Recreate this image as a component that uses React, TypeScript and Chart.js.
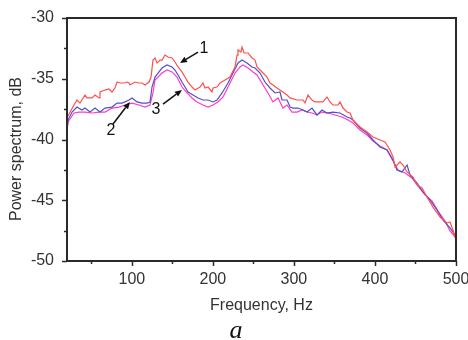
import React, { useEffect, useRef } from "react";
import { Chart, registerables } from "chart.js";

Chart.register(...registerables);

// Curve 1 (red)
const FREQ_1 = [20, 28.6, 32.3, 36, 42.2, 44.7, 50.9, 54.6, 59.5, 60.7, 66.9, 71.8, 75.5, 79.2, 81.7, 85.4, 90.3, 94, 96.5, 97.7, 103.9, 108.8, 112.6, 116.3, 121.2, 123.7, 126.1, 128.6, 131.1, 134.8, 137.2, 140.9, 144.6, 149.6, 153.3, 157, 161.9, 165.6, 169.3, 174.3, 178, 184.1, 187.8, 190.3, 194, 198.9, 200.2, 205.1, 208.8, 215, 221.1, 227.3, 229.8, 231, 234.7, 236, 238.4, 243.4, 248.3, 252, 254.5, 258.2, 261.9, 266.8, 270.5, 274.2, 279.1, 282.8, 286.5, 291.5, 295.2, 303.8, 311.2, 313.7, 317.4, 322.3, 326, 332.2, 335.9, 340.8, 344.5, 348.2, 354.4, 356.9, 360.6, 365.5, 369.2, 372.9, 381.6, 390.2, 397.6, 406.2, 412.4, 418.6, 422.3, 424.8, 430.9, 434.6, 439.6, 447, 451.9, 458.1, 464.2, 471.6, 480.3, 488.9, 492.6, 496.3, 498.8, 500];
const DB_1 = [-38.2, -37.16, -36.75, -37.0, -36.34, -36.58, -36.58, -36.34, -36.58, -36.09, -35.93, -35.84, -36.09, -35.76, -35.27, -35.35, -35.35, -35.27, -35.35, -35.51, -35.27, -35.35, -35.35, -35.51, -35.27, -34.86, -33.46, -33.29, -33.7, -33.46, -33.46, -33.05, -33.21, -33.29, -33.62, -34.03, -34.44, -34.86, -35.27, -35.68, -35.93, -35.68, -35.35, -35.76, -35.68, -36.09, -35.76, -35.68, -35.35, -35.1, -34.86, -34.03, -33.05, -32.63, -32.8, -32.39, -32.88, -32.88, -33.29, -33.46, -34.03, -34.28, -34.53, -34.86, -35.35, -35.51, -35.76, -35.93, -36.09, -36.34, -36.58, -36.75, -36.75, -37.0, -36.34, -36.75, -36.91, -36.91, -36.91, -36.5, -36.91, -37.16, -37.16, -36.91, -37.41, -37.74, -37.82, -38.4, -38.97, -39.38, -39.79, -40.04, -40.21, -40.86, -41.44, -42.26, -41.85, -42.1, -42.67, -43.09, -43.74, -43.99, -44.73, -45.56, -46.38, -46.87, -46.79, -47.45, -48.02, -48.2];

// Curve 2 (blue)
const FREQ_2 = [20, 21.2, 26.2, 32.3, 38.5, 42.2, 48.4, 54.6, 60.7, 66.9, 75.5, 81.7, 87.9, 96.5, 100.2, 106.4, 112.6, 118.7, 122.4, 124.9, 128.6, 133.5, 137.2, 143.4, 149.6, 153.3, 157, 161.9, 165.6, 169.3, 175.5, 181.7, 187.8, 194, 200.2, 205.1, 211.3, 218.7, 224.8, 231, 236, 242.1, 248.3, 252, 258.2, 264.3, 270.5, 276.7, 282.8, 285.3, 291.5, 295.2, 298.9, 305, 311.2, 316.2, 322.3, 328.5, 334.7, 340.8, 348.2, 356.9, 365.5, 369.2, 372.9, 381.6, 390.2, 397.6, 406.2, 414.9, 422.3, 427.2, 433.4, 439.6, 443.3, 451.9, 459.3, 467.9, 476.6, 484, 492.6, 498.8, 500];
const DB_2 = [-38.6, -38.4, -37.74, -37.33, -37.57, -37.41, -37.74, -37.41, -37.74, -37.41, -37.33, -37.0, -37.0, -36.75, -36.58, -36.91, -37.0, -37.0, -36.91, -35.68, -34.86, -34.44, -34.12, -33.87, -34.03, -34.28, -34.69, -35.27, -35.68, -36.09, -36.34, -36.58, -36.75, -36.75, -36.91, -36.75, -36.17, -35.35, -34.53, -33.7, -33.46, -33.7, -34.03, -34.12, -34.53, -35.27, -35.76, -36.17, -36.09, -36.75, -36.75, -37.33, -37.41, -37.41, -37.57, -37.74, -37.41, -37.98, -37.57, -37.82, -37.74, -37.82, -38.15, -38.23, -38.4, -39.05, -39.47, -40.04, -40.62, -40.86, -41.69, -42.51, -42.67, -42.1, -42.92, -43.58, -44.32, -44.98, -45.8, -46.63, -47.28, -47.86, -48.0];

// Curve 3 (magenta)
const FREQ_3 = [20, 21.2, 28.6, 34.8, 42.2, 50.9, 59.5, 66.9, 75.5, 84.2, 91.6, 100.2, 108.8, 116.3, 122.4, 126.1, 128.6, 134.8, 137.2, 143.4, 149.6, 155.7, 161.9, 168.1, 174.3, 180.4, 187.8, 194, 200.2, 206.3, 212.5, 218.7, 227.3, 233.5, 237.2, 243.4, 249.5, 254.5, 261.9, 268, 274.2, 280.4, 286.5, 291.5, 297.6, 303.8, 310, 316.2, 322.3, 328.5, 334.7, 342.1, 350.7, 359.4, 366.8, 372.9, 381.6, 390.2, 397.6, 406.2, 414.9, 422.3, 428.5, 437.1, 445.7, 453.1, 461.8, 470.4, 477.8, 486.5, 492.6, 498.8, 500];
const DB_3 = [-38.8, -38.56, -37.82, -37.74, -37.74, -37.82, -37.74, -37.74, -37.41, -37.33, -37.16, -37.0, -37.16, -37.33, -37.16, -36.17, -35.1, -34.69, -34.53, -34.28, -34.44, -34.86, -35.68, -36.17, -36.58, -36.91, -37.16, -37.33, -37.16, -36.91, -36.5, -35.68, -34.53, -34.03, -33.87, -34.12, -34.44, -34.69, -35.51, -36.17, -36.91, -36.58, -37.41, -37.16, -37.74, -37.74, -37.57, -37.74, -37.82, -37.98, -37.74, -37.82, -37.98, -38.15, -38.4, -38.64, -39.22, -39.63, -40.13, -40.54, -40.86, -41.77, -42.51, -42.76, -43.17, -43.83, -44.56, -45.06, -45.89, -46.71, -47.53, -48.02, -48.2];

const X_MAJOR = [100, 200, 300, 400, 500];
const X_MINOR = [50, 150, 250, 350, 450];
const Y_MAJOR = [-50, -45, -40, -35, -30];
const Y_MINOR = [-47.5, -42.5, -37.5, -32.5];

const X_TITLE = "Frequency, Hz";
const Y_TITLE = "Power spectrum, dB";
const CAPTION = "a";

const CURVE_LABELS = ["1", "2", "3"];
const LABEL_POS = [
  [189.1, -32.55],
  [74.3, -39.3],
  [129.8, -37.57],
];
const ARROW_TAIL = [
  [181.7, -32.8],
  [76.8, -38.72],
  [138.5, -37.08],
];
const ARROW_TIP = [
  [159.4, -33.7],
  [97.7, -36.91],
  [161.9, -35.93],
];

const toPts = (xs: number[], ys: number[]) => xs.map((x, i) => ({ x, y: ys[i] }));

const FONT = "'Liberation Sans', Arial, sans-serif";
const AXIS_COLOR = "#2a2a2a";
const TEXT_COLOR = "#333";

const decorPlugin = {
  id: "decor",
  afterDatasetsDraw(chart: any) {
    const { ctx, chartArea: a, scales } = chart;
    const xs = scales.x;
    const ys = scales.y;
    ctx.save();
    // frame
    ctx.strokeStyle = AXIS_COLOR;
    ctx.lineWidth = 2;
    ctx.strokeRect(a.left, a.top, a.right - a.left, a.bottom - a.top);
    // ticks
    ctx.lineWidth = 1.5;
    ctx.beginPath();
    X_MAJOR.forEach((v) => {
      const px = Math.round(xs.getPixelForValue(v)) + 0.5;
      ctx.moveTo(px, a.bottom);
      ctx.lineTo(px, a.bottom + 5);
    });
    X_MINOR.forEach((v) => {
      const px = Math.round(xs.getPixelForValue(v)) + 0.5;
      ctx.moveTo(px, a.bottom);
      ctx.lineTo(px, a.bottom + 3);
    });
    Y_MAJOR.forEach((v) => {
      const py = Math.round(ys.getPixelForValue(v)) + 0.5;
      ctx.moveTo(a.left, py);
      ctx.lineTo(a.left - 5, py);
    });
    Y_MINOR.forEach((v) => {
      const py = Math.round(ys.getPixelForValue(v)) + 0.5;
      ctx.moveTo(a.left, py);
      ctx.lineTo(a.left - 3, py);
    });
    ctx.stroke();

    // x tick labels
    ctx.fillStyle = TEXT_COLOR;
    ctx.font = `16px ${FONT}`;
    ctx.textAlign = "center";
    ctx.textBaseline = "alphabetic";
    X_MAJOR.forEach((v) => {
      ctx.fillText(String(v), xs.getPixelForValue(v), a.bottom + 23);
    });

    // arrows and curve labels
    ctx.strokeStyle = "#111";
    ctx.fillStyle = "#111";
    ctx.lineWidth = 1.5;
    CURVE_LABELS.forEach((lab, i) => {
      const tx = xs.getPixelForValue(ARROW_TAIL[i][0]);
      const ty = ys.getPixelForValue(ARROW_TAIL[i][1]);
      const hx = xs.getPixelForValue(ARROW_TIP[i][0]);
      const hy = ys.getPixelForValue(ARROW_TIP[i][1]);
      const ang = Math.atan2(hy - ty, hx - tx);
      const hl = 7;
      const hw = 3;
      const bx = hx - hl * Math.cos(ang);
      const by = hy - hl * Math.sin(ang);
      ctx.beginPath();
      ctx.moveTo(tx, ty);
      ctx.lineTo(bx, by);
      ctx.stroke();
      ctx.beginPath();
      ctx.moveTo(hx, hy);
      ctx.lineTo(bx + hw * Math.sin(ang), by - hw * Math.cos(ang));
      ctx.lineTo(bx - hw * Math.sin(ang), by + hw * Math.cos(ang));
      ctx.closePath();
      ctx.fill();
      ctx.font = `16px ${FONT}`;
      ctx.textAlign = "center";
      ctx.textBaseline = "middle";
      ctx.fillText(lab, xs.getPixelForValue(LABEL_POS[i][0]), ys.getPixelForValue(LABEL_POS[i][1]));
    });

    // axis titles
    ctx.fillStyle = TEXT_COLOR;
    ctx.font = `16px ${FONT}`;
    ctx.textAlign = "center";
    ctx.textBaseline = "alphabetic";
    ctx.fillText(X_TITLE, (a.left + a.right) / 2, 310);
    ctx.save();
    ctx.translate(21, 149);
    ctx.rotate(-Math.PI / 2);
    ctx.fillText(Y_TITLE, 0, 0);
    ctx.restore();
    ctx.fillStyle = "#111";
    ctx.font = `italic 26px 'Liberation Serif', 'Times New Roman', serif`;
    ctx.fillText(CAPTION, 236, 338);
    ctx.restore();
  },
};

export default function App() {
  const ref = useRef<HTMLCanvasElement>(null);
  useEffect(() => {
    document.body.style.margin = "0";
    const chart = new Chart(ref.current!, {
      type: "line",
      data: {
        datasets: [
          { label: "1", data: toPts(FREQ_1, DB_1), borderColor: "rgb(255,80,80)", borderWidth: 1.2, pointRadius: 0, tension: 0 },
          { label: "2", data: toPts(FREQ_2, DB_2), borderColor: "rgb(80,80,200)", borderWidth: 1.2, pointRadius: 0, tension: 0 },
          { label: "3", data: toPts(FREQ_3, DB_3), borderColor: "rgb(255,60,200)", borderWidth: 1.2, pointRadius: 0, tension: 0 },
        ],
      },
      options: {
        animation: false,
        responsive: false,
        maintainAspectRatio: false,
        layout: { padding: { top: 18, right: 12, left: 0, bottom: 0 } },
        plugins: { legend: { display: false }, tooltip: { enabled: false } },
        scales: {
          x: {
            type: "linear",
            min: 20,
            max: 500,
            grid: { display: false },
            border: { display: false },
            afterBuildTicks: (s: any) => {
              s.ticks = X_MAJOR.map((v) => ({ value: v }));
            },
            afterFit: (s: any) => {
              s.height = 79;
            },
            ticks: { display: false },
          },
          y: {
            type: "linear",
            min: -50,
            max: -30,
            grid: { display: false },
            border: { display: false },
            afterBuildTicks: (s: any) => {
              s.ticks = Y_MAJOR.map((v) => ({ value: v }));
            },
            afterFit: (s: any) => {
              s.width = 67;
            },
            ticks: { font: { family: FONT, size: 16 }, color: TEXT_COLOR, padding: 5 },
          },
        },
      },
      plugins: [decorPlugin],
    });
    return () => chart.destroy();
  }, []);
  return <canvas ref={ref} width={468} height={340} style={{ display: "block" }} />;
}
